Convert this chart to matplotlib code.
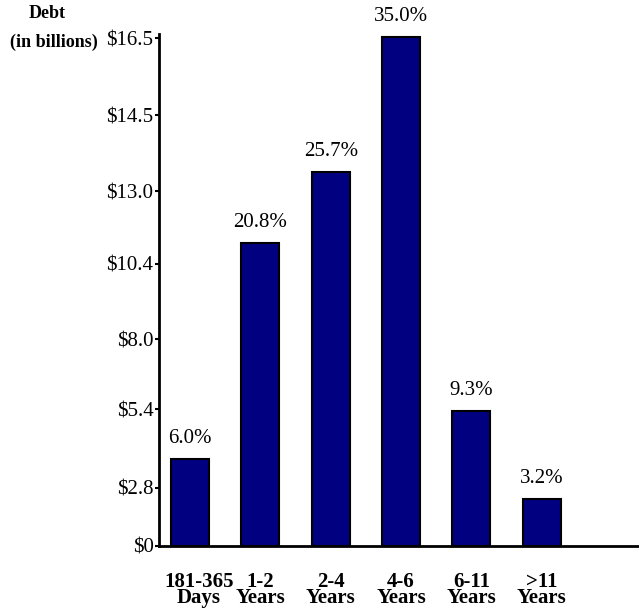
import matplotlib.pyplot as plt
from matplotlib.transforms import ScaledTranslation

plt.rcParams['font.family'] = ['Liberation Serif', 'DejaVu Serif']

# -------- Data -------- #
categories = ["181-365\nDays", "1-2\nYears", "2-4\nYears", "4-6\nYears", "6-11\nYears", ">11\nYears"]
share_pct = [6.0, 20.8, 25.7, 35.0, 9.3, 3.2]
pct_labels = ["6.0%", "20.8%", "25.7%", "35.0%", "9.3%", "3.2%"]

# y ticks as printed on the original (positions in % scale of the bars)
ytick_pos = [0, 4.0, 9.4, 14.2, 19.4, 24.4, 29.6, 34.9]
ytick_labels = ["$0", "$2.8", "$5.4", "$8.0", "$10.4", "$13.0", "$14.5", "$16.5"]

# -------- Plot -------- #
fig = plt.figure(figsize=(6.39, 6.10), dpi=100)
ax = fig.add_axes([159 / 639, 64 / 610, 1 - 159 / 639, (546 - 34) / 610])

x = range(len(categories))
ax.bar(x, share_pct, width=0.54, color='#000080', edgecolor='black', linewidth=1.5)

for xi, v, lab in zip(x, share_pct, pct_labels):
    ax.annotate(lab, (xi, v), xytext=(0, 8), textcoords='offset points',
                ha='center', va='bottom', fontsize=15)

ax.set_xlim(-0.44, 6.38)
ax.set_ylim(0, 35.2)

ax.set_yticks(ytick_pos)
ax.set_yticklabels(ytick_labels, fontsize=15)
ax.tick_params(axis='y', direction='out', length=3, width=1.5, pad=1)

ax.set_xticks(list(x))
ax.set_xticklabels(categories, fontsize=15, fontweight='bold', linespacing=0.72)
ax.tick_params(axis='x', length=0, pad=19)
# first label sits a bit right of its bar in the original
lbl = ax.get_xticklabels()[0]
lbl.set_transform(lbl.get_transform() + ScaledTranslation(0.09, 0, fig.dpi_scale_trans))

for s in ['top', 'right']:
    ax.spines[s].set_visible(False)
ax.spines['left'].set_linewidth(2)
ax.spines['bottom'].set_linewidth(2)

fig.text(47 / 639, 1 - 14 / 610, "Debt", ha='center', va='center', fontsize=13, fontweight='bold')
fig.text(54 / 639, 1 - 42 / 610, "(in billions)", ha='center', va='center', fontsize=13, fontweight='bold')

fig.savefig("out.png", dpi=100)
